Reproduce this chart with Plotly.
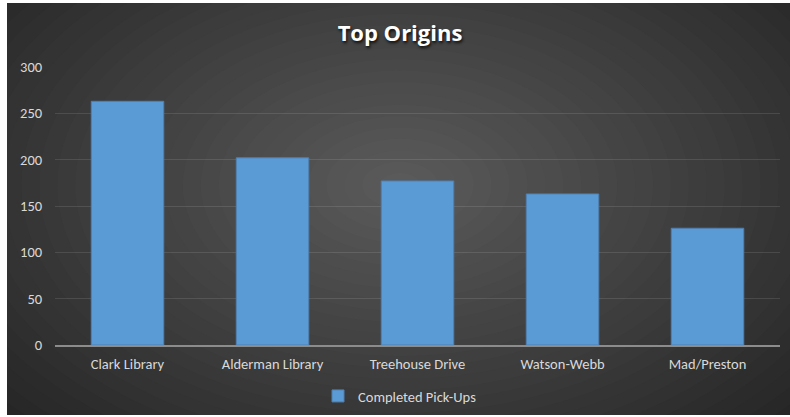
import plotly.graph_objects as go

categories = ["Clark Library", "Alderman Library", "Treehouse Drive", "Watson-Webb", "Mad/Preston"]
completed_pickups = [263, 202, 177, 163, 126]
y_ticks = [0, 50, 100, 150, 200, 250, 300]
series_name = "Completed Pick-Ups"
title_text = "Top Origins"

W, H = 790, 417
ML, MR, MT, MB = 55, 10, 67, 72
PW = W - ML - MR
PH = H - MT - MB

def px_x(p):
    return (p - ML) / PW

def px_y(p):
    return (H - MB - p) / PH

FONT = "Carlito, Calibri, Lato, sans-serif"

shapes = []
shapes.append(dict(type="rect", xref="paper", yref="paper",
                   x0=px_x(7), x1=px_x(W + 20), y0=px_y(H - 2), y1=px_y(3),
                   fillcolor="#262626", line=dict(width=0), layer="below"))
n = 30
cx, cy = 400, 185
for i in range(n):
    f = i / (n - 1)
    rx = 520 * (1 - f) + 20
    ry = 330 * (1 - f) + 12
    c0 = (38, 38, 38)
    c1 = (90, 90, 90)
    col = tuple(int(round(a + (b - a) * f)) for a, b in zip(c0, c1))
    shapes.append(dict(type="circle", xref="paper", yref="paper",
                       x0=px_x(cx - rx), x1=px_x(cx + rx),
                       y0=px_y(cy + ry), y1=px_y(cy - ry),
                       fillcolor="rgb(%d,%d,%d)" % col, line=dict(width=0),
                       layer="below"))
shapes.append(dict(type="rect", xref="paper", yref="paper",
                   x0=px_x(-5), x1=px_x(7), y0=px_y(H + 5), y1=px_y(-5),
                   fillcolor="white", line=dict(width=0), layer="below"))
shapes.append(dict(type="rect", xref="paper", yref="paper",
                   x0=px_x(-5), x1=px_x(W + 20), y0=px_y(3), y1=px_y(-5),
                   fillcolor="white", line=dict(width=0), layer="below"))
shapes.append(dict(type="rect", xref="paper", yref="paper",
                   x0=px_x(-5), x1=px_x(W + 20), y0=px_y(H + 5), y1=px_y(H - 2),
                   fillcolor="white", line=dict(width=0), layer="below"))

fig = go.Figure()
fig.add_trace(go.Bar(
    x=categories, y=completed_pickups, name=series_name,
    marker=dict(color="#5B9BD5", line=dict(color="#4F7FB0", width=1)),
    showlegend=True,
))

fig.update_layout(
    width=W, height=H,
    margin=dict(l=ML, r=MR, t=MT, b=MB, pad=0, autoexpand=False),
    paper_bgcolor="#2a2a2a",
    plot_bgcolor="rgba(0,0,0,0)",
    shapes=shapes,
    bargap=0.5,
    font=dict(family=FONT, color="#D9D9D9", size=14),
    title=dict(text="<b>" + title_text + "</b>", x=400 / W, xref="container", xanchor="center",
               y=1 - 33 / H, yanchor="middle",
               font=dict(family="Open Sans, sans-serif", size=22, color="white",
                         shadow="1px 2px 3px rgba(0,0,0,0.8)")),
    xaxis=dict(showgrid=False, showline=True, linecolor="#8C8C8C", linewidth=2,
               ticks="outside", ticklen=5, tickcolor="rgba(0,0,0,0)", automargin=False,
               tickfont=dict(family=FONT, size=14.5, color="#D9D9D9"), fixedrange=True),
    yaxis=dict(range=[0, 300], tickvals=y_ticks, showgrid=True,
               gridcolor="rgba(255,255,255,0.11)", gridwidth=1,
               zeroline=False, showline=False, automargin=False,
               ticks="outside", ticklen=9, tickcolor="rgba(0,0,0,0)",
               tickfont=dict(family=FONT, size=14.5, color="#D9D9D9"), fixedrange=True),
    legend=dict(orientation="h", x=px_x(318), xanchor="left", y=px_y(396), yanchor="middle",
                font=dict(family=FONT, size=14.5, color="#D9D9D9"),
                bgcolor="rgba(0,0,0,0)", itemwidth=30),
)

fig.write_html("out.html", config={"displayModeBar": False, "responsive": False},
               post_script=("document.body.style.margin='0';"
                            "document.body.style.overflow='hidden';"
                            "document.documentElement.style.background='#262626';"
                            "document.body.style.background='#262626';"))
